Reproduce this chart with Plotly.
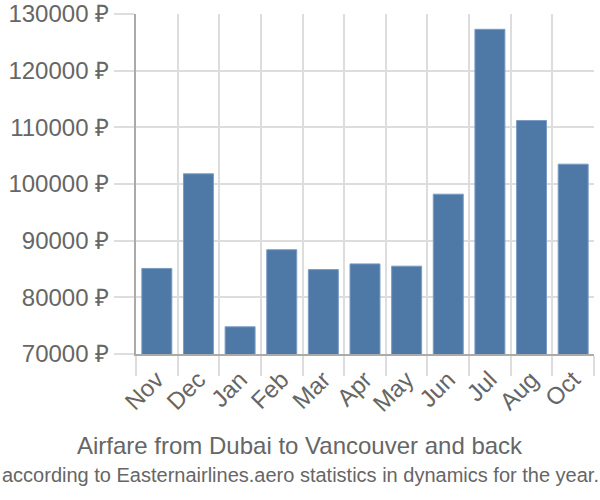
import plotly.graph_objects as go

months = ["Nov", "Dec", "Jan", "Feb", "Mar", "Apr", "May", "Jun", "Jul", "Aug", "Oct"]
prices = [85100, 101800, 74800, 88400, 84900, 85900, 85500, 98200, 127300, 111200, 103500]
title_text = "Airfare from Dubai to Vancouver and back"
subtitle_text = "according to Easternairlines.aero statistics in dynamics for the year."

font_family = "Liberation Sans, Arial, sans-serif"
text_color = "#666666"
grid_color = "#dddddd"

fig = go.Figure(go.Bar(
    x=months, y=prices,
    marker=dict(color="#4e79a7", line=dict(color="#7a9cc4", width=1)),
))

cx = (300 - 136) / 458

fig.update_layout(
    width=600, height=500,
    margin=dict(l=136, r=6, t=14, b=146),
    paper_bgcolor="white", plot_bgcolor="white",
    bargap=0.28,
    showlegend=False,
    font=dict(family=font_family, color=text_color, size=24),
    annotations=[
        dict(text=title_text, xref="paper", yref="paper", x=cx, y=0,
             xanchor="center", yanchor="middle", showarrow=False,
             font=dict(size=24, color=text_color, family=font_family), yshift=-91),
        dict(text=subtitle_text, xref="paper", yref="paper", x=cx, y=0,
             xanchor="center", yanchor="middle", showarrow=False,
             font=dict(size=20, color=text_color, family=font_family), yshift=-121),
    ],
)

fig.update_xaxes(
    type="category", tickson="boundaries", ticks="outside", ticklen=20, tickwidth=2,
    tickcolor=grid_color, showgrid=True, gridcolor=grid_color, gridwidth=2,
    tickangle=-45, showline=True, linecolor="#aaaaaa", linewidth=2,
    tickfont=dict(size=24, color=text_color), automargin=False,
)
fig.update_yaxes(
    range=[70000, 130000], dtick=10000, ticksuffix=" ₽", tickformat="d",
    ticks="outside", ticklen=20, tickwidth=2, tickcolor=grid_color,
    showgrid=True, gridcolor=grid_color, gridwidth=2,
    showline=True, linecolor="#aaaaaa", linewidth=2, zeroline=False,
    tickfont=dict(size=24, color=text_color), automargin=False,
)

fig.write_html("out.html")
